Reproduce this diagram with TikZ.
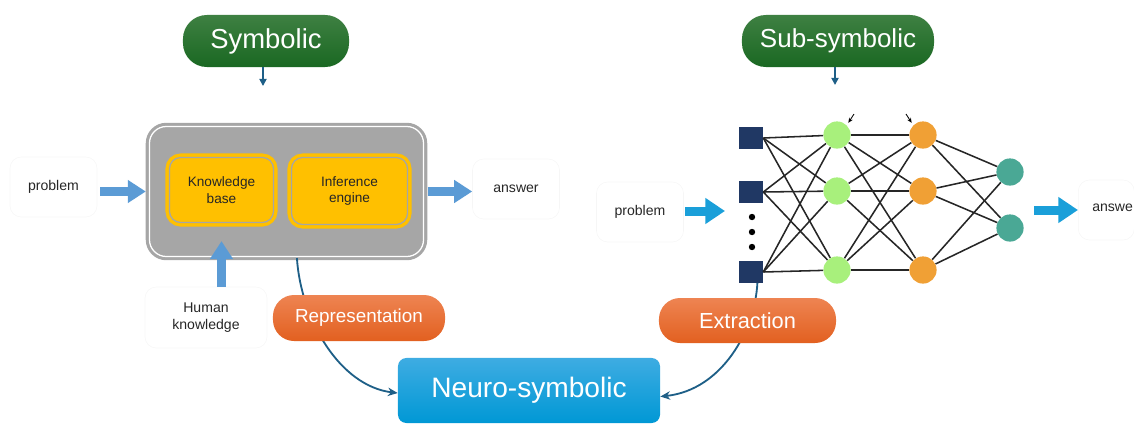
\documentclass[tikz,border=0pt]{standalone}
\usepackage{fontspec}
\setmainfont{Liberation Sans}
\usetikzlibrary{arrows.meta}

\definecolor{symgreen}{RGB}{26,104,34}
\definecolor{symgreenlight}{RGB}{62,128,66}
\definecolor{reporange}{RGB}{226,96,32}
\definecolor{reporangelight}{RGB}{238,132,82}
\definecolor{neuroblue}{RGB}{0,152,213}
\definecolor{neurobluelight}{RGB}{62,172,226}
\definecolor{boxgray}{RGB}{166,166,166}
\definecolor{kbyellow}{RGB}{255,192,0}
\definecolor{arrowblue}{RGB}{91,155,213}
\definecolor{arrowcyan}{RGB}{26,159,217}
\definecolor{linkblue}{RGB}{30,95,135}
\definecolor{nnnavy}{RGB}{32,56,100}
\definecolor{nngreen}{RGB}{168,240,124}
\definecolor{nnorange}{RGB}{240,160,53}
\definecolor{nnteal}{RGB}{74,168,149}
\definecolor{faint}{RGB}{246,246,246}

\begin{document}
\begin{tikzpicture}[x=0.025cm, y=-0.025cm,
    pill/.style = {rounded corners=15pt, text=white, inner sep=0pt},
    graybox/.style = {draw=boxgray, fill=boxgray, line width=2.2pt, double=white, double distance=0.9pt, rounded corners=12pt, inner sep=0pt},
    kbox/.style = {draw=kbyellow, fill=kbyellow, line width=2.4pt, double=boxgray, double distance=0.9pt, rounded corners=8pt, inner sep=0pt, align=center, text=black!85, font=\fontsize{9.7}{12}\selectfont},
    labelbox/.style = {draw=faint, rounded corners=8pt, inner sep=0pt, align=center, text=black!85, font=\fontsize{10}{12.2}\selectfont, minimum width=2.175cm, minimum height=1.5cm},
    bigarrow/.style = {draw=arrowblue, line width=5.7pt, -{Triangle[length=12.8pt,width=15.6pt]}},
    bigarrowc/.style = {draw=arrowcyan, line width=6.4pt, -{Triangle[length=14pt,width=17.7pt]}},
    pointer/.style = {draw=linkblue, line width=1.2pt, -{Triangle[length=5pt,width=5pt]}},
    link/.style = {draw=linkblue, line width=1.3pt, -{Stealth[length=7pt,width=6pt]}},
    inputnode/.style = {fill=nnnavy, minimum width=0.6cm, minimum height=0.53cm, inner sep=0pt},
    hidnode/.style = {circle, minimum size=0.68cm, inner sep=0pt},
    dotnode/.style = {circle, fill=black, minimum size=0.16cm, inner sep=0pt},
    wire/.style = {draw=black!85, line width=1.1pt},
    tick/.style = {draw=black, line width=0.6pt, -{Stealth[length=3.5pt,width=3pt]}, shorten >=2pt}]

    \useasboundingbox (0,0) rectangle (1134,423);

    % Oznake zgoraj
    \node[pill, top color=symgreenlight, bottom color=symgreen, rounded corners=17pt, minimum width=4.15cm, minimum height=1.3cm, font=\fontsize{19.5}{23}\selectfont] (sym) at (266,41) {Symbolic};
    \node[pill, top color=symgreenlight, bottom color=symgreen, rounded corners=17pt, minimum width=4.8cm, minimum height=1.3cm, font=\fontsize{18.5}{22}\selectfont] (subsym) at (838,41) {Sub-symbolic};
    \coordinate (symin) at (263,86);
    \coordinate (subin) at (835,85);
    \draw[pointer] (sym.south -| symin) -- (symin);
    \draw[pointer] (subsym.south -| subin) -- (subin);

    % Simbolni sistem
    \node[graybox, minimum width=6.85cm, minimum height=3.25cm] (sysbox) at (286.5,191.5) {};
    \node[kbox, minimum width=2.6cm, minimum height=1.625cm] (kb) at (221.5,190) {Knowledge\\base};
    \node[kbox, minimum width=2.9cm, minimum height=1.675cm] (ie) at (349.5,191) {Inference\\engine};
    \node[labelbox] (prob1) at (53.5,187) {problem};
    \node[labelbox] (ans1) at (516,189) {answer};
    \node[labelbox, minimum width=3.05cm, minimum height=1.525cm] (human) at (206,317.5) {Human\\knowledge};

    \draw[bigarrow, shorten <=2pt, shorten >=1.5pt] (prob1.east |- sysbox.west) -- (sysbox.west);
    \draw[bigarrow, shorten <=2pt] (sysbox.east) -- (ans1.west |- sysbox.east);
    \draw[bigarrow, shorten >=12pt] (human.north -| kb.south) -- (kb.south);

    % Nevronska mreza
    \foreach \n/\y in {1/138, 2/192, 3/272}
        \node[inputnode] (in\n) at (751,\y) {};
    \foreach \n/\y in {1/217, 2/232, 3/247}
        \node[dotnode] (d\n) at (752,\y) {};
    \foreach \n/\y in {1/135, 2/191, 3/270} {
        \node[hidnode, fill=nngreen] (g\n) at (837,\y) {};
        \node[hidnode, fill=nnorange] (o\n) at (923,\y) {};
    }
    \foreach \n/\y in {1/172, 2/228}
        \node[hidnode, fill=nnteal] (t\n) at (1010,\y) {};

    \foreach \i in {1,2,3}
        \foreach \j in {1,2,3} {
            \draw[wire] (in\i.east) -- (g\j);
            \draw[wire] (g\i) -- (o\j);
        }
    \foreach \i in {1,2,3}
        \foreach \j in {1,2}
            \draw[wire] (o\i) -- (t\j);

    \coordinate (gmark) at (854,114);
    \coordinate (omark) at (906,114);
    \draw[tick] (gmark) -- (g1.north east);
    \draw[tick] (omark) -- (o1.north west);

    \node[labelbox] (prob2) at (640,212) {problem};
    \node[labelbox, minimum width=1.4cm, anchor=west] (ans2box) at (1078,210) {};
    \node[anchor=west, inner sep=0pt, text=black!85, font=\fontsize{10}{12.2}\selectfont] (ans2) at (1092,208) {answe};
    \coordinate (nnin) at (725,211);
    \coordinate (nnout) at (1034,210);
    \draw[bigarrowc, shorten <=1pt] (prob2.east |- nnin) -- (nnin);
    \draw[bigarrowc] (nnout) -- (ans2box.west);

    % Nevro-simbolno
    \node[top color=neurobluelight, bottom color=neuroblue, rounded corners=6pt, text=white, inner sep=0pt, minimum width=6.55cm, minimum height=1.625cm, font=\fontsize{20}{24}\selectfont] (neuro) at (529,390.5) {Neuro-symbolic};

    \draw[link] ([xshift=0.26cm]sysbox.south) .. controls (301,320) and (340,386) .. ([yshift=-1.8pt]neuro.west);
    \draw[link] ([xshift=0.16cm]in3.south) .. controls (755,330) and (722,390) .. ([yshift=-4.3pt]neuro.east);

    \node[pill, top color=reporangelight, bottom color=reporange, minimum width=4.3cm, minimum height=1.15cm, font=\fontsize{13.4}{16}\selectfont] (repr) at (359,318) {Representation};
    \node[pill, top color=reporangelight, bottom color=reporange, minimum width=4.425cm, minimum height=1.125cm, font=\fontsize{15.5}{18}\selectfont] (extr) at (747.5,320.5) {Extraction};

\end{tikzpicture}
\end{document}
